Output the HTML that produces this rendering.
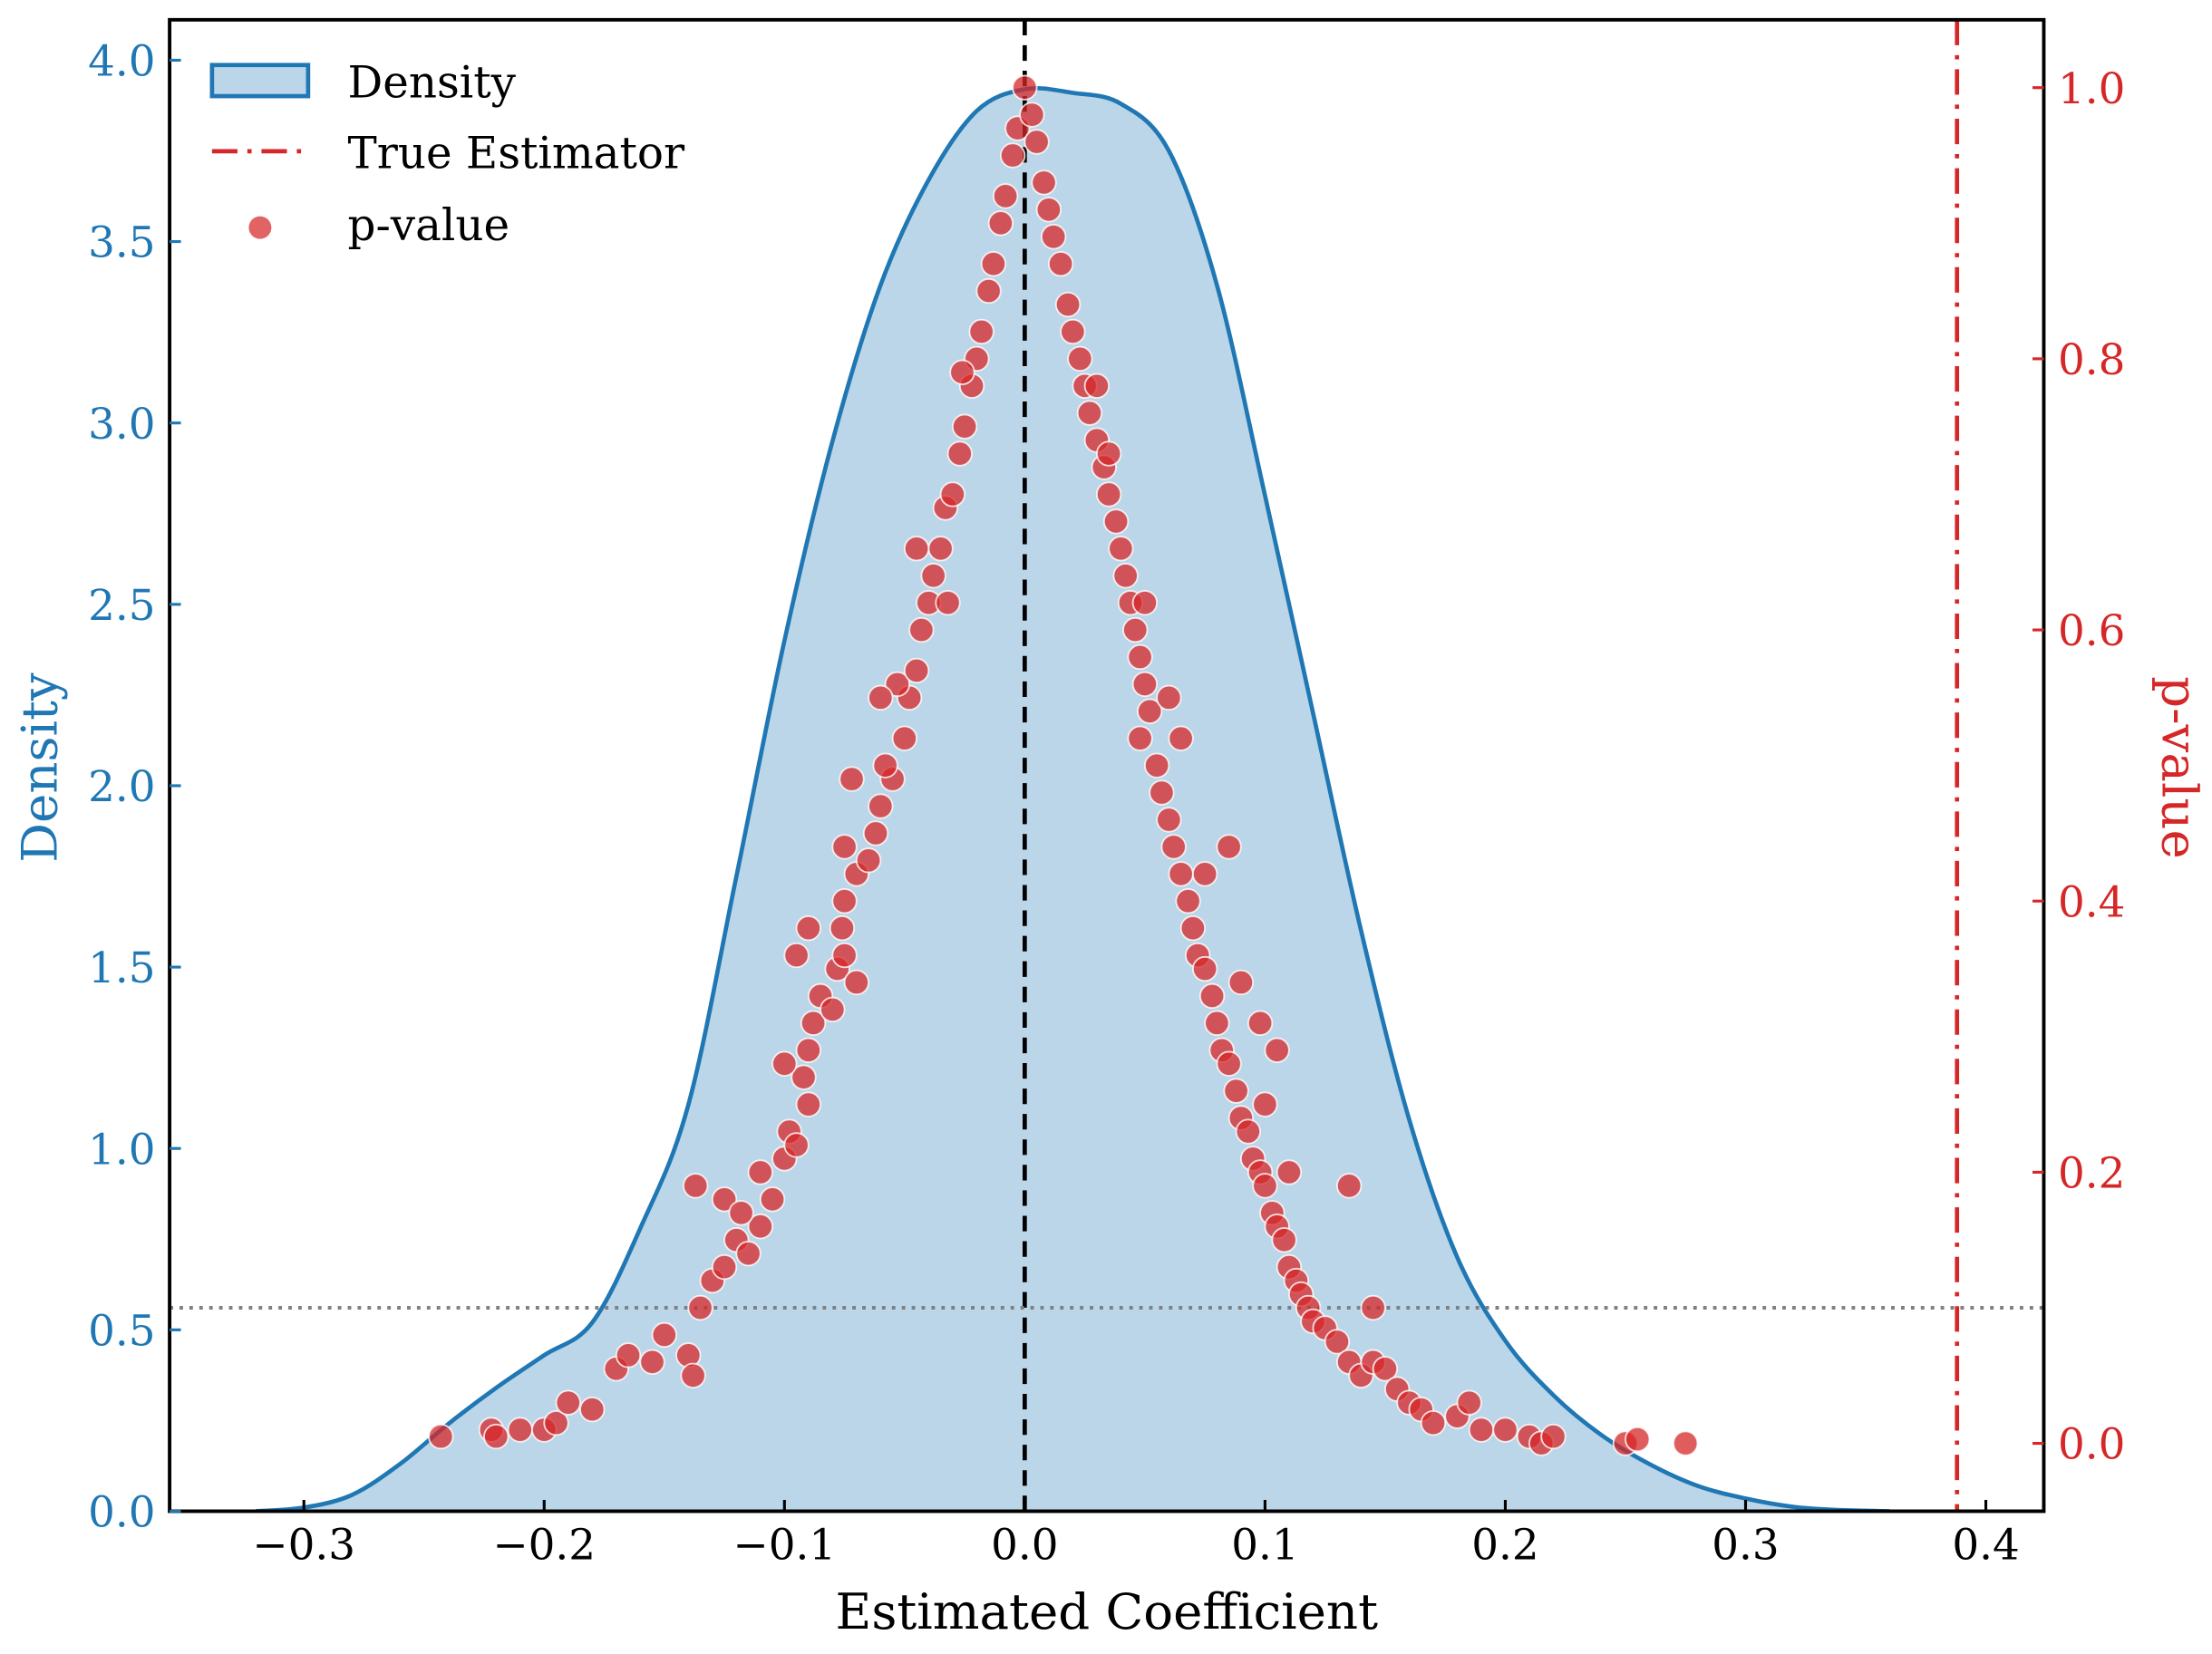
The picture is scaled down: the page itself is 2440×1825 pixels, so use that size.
<!DOCTYPE html>
<html><head><meta charset="utf-8"><style>
html,body{margin:0;padding:0;background:#fff}
svg{display:block}
text{font-family:"DejaVu Serif","Liberation Serif",serif}
</style></head><body>
<svg id="chart" width="2440" height="1825" viewBox="0 0 1565 1170" preserveAspectRatio="none" xmlns="http://www.w3.org/2000/svg">
<g id="plot"></g>
</svg>
<script>
const xTicks=[-0.3,-0.2,-0.1,0.0,0.1,0.2,0.3,0.4];
const xTickLabels=["\u22120.3","\u22120.2","\u22120.1","0.0","0.1","0.2","0.3","0.4"];
const densTicks=[0,0.5,1,1.5,2,2.5,3,3.5,4];
const densTickLabels=["0.0","0.5","1.0","1.5","2.0","2.5","3.0","3.5","4.0"];
const pTicks=[0,0.2,0.4,0.6,0.8,1.0];
const pTickLabels=["0.0","0.2","0.4","0.6","0.8","1.0"];
const kdeX=[-0.32,-0.30,-0.28,-0.26,-0.24,-0.22,-0.20,-0.18,-0.16,-0.14,-0.12,-0.10,-0.08,-0.06,-0.04,-0.02,0.0,0.02,0.04,0.06,0.08,0.10,0.12,0.14,0.16,0.18,0.20,0.22,0.24,0.26,0.28,0.30,0.32,0.34,0.36];
const kdeY=[0,0.01,0.045,0.13,0.24,0.34,0.43,0.52,0.78,1.12,1.75,2.4,2.95,3.38,3.67,3.86,3.92,3.91,3.88,3.75,3.38,2.8,2.2,1.6,1.08,0.7,0.47,0.32,0.21,0.13,0.07,0.035,0.012,0.003,0];
const trueEstimator=0.388;
const pThreshold=0.1;
const coefs=[-0.243,-0.222,-0.22,-0.21,-0.2,-0.195,-0.19,-0.18,-0.17,-0.165,-0.155,-0.15,-0.14,-0.138,-0.135,-0.13,-0.125,-0.12,-0.115,-0.11,-0.105,-0.137,-0.125,-0.118,-0.11,-0.1,-0.098,-0.095,-0.09,-0.092,-0.1,-0.09,-0.088,-0.085,-0.08,-0.078,-0.075,-0.07,-0.076,-0.095,-0.09,-0.075,-0.07,-0.065,-0.062,-0.06,-0.055,-0.058,-0.05,-0.048,-0.053,-0.045,-0.043,-0.04,-0.038,-0.035,-0.033,-0.03,-0.027,-0.025,-0.022,-0.02,-0.018,-0.015,-0.013,-0.01,-0.008,-0.005,-0.003,0.0,-0.06,-0.072,-0.032,-0.045,-0.026,-0.075,
0.003,0.005,0.008,0.01,0.012,0.015,0.018,0.02,0.023,0.025,0.027,0.03,0.033,0.035,0.038,0.04,0.042,0.044,0.046,0.048,0.05,0.052,0.048,0.055,0.057,0.06,0.062,0.065,0.068,0.07,0.072,0.075,0.078,0.08,0.082,0.085,0.088,0.09,0.093,0.095,0.098,0.1,0.103,0.105,0.108,0.11,0.113,0.115,0.118,0.12,0.125,0.13,0.135,0.14,0.145,0.15,0.155,0.16,0.165,0.17,0.18,0.185,0.19,0.2,0.21,0.215,0.22,0.25,0.255,0.275,0.085,0.09,0.105,0.135,0.1,0.065,0.05,0.03,0.035,0.11,0.145,0.075,0.06,0.098];
const pvals=[0.005,0.01,0.005,0.01,0.01,0.015,0.03,0.025,0.055,0.065,0.06,0.08,0.065,0.05,0.1,0.12,0.13,0.15,0.14,0.16,0.18,0.19,0.18,0.17,0.2,0.21,0.23,0.22,0.25,0.27,0.28,0.29,0.31,0.33,0.32,0.35,0.36,0.34,0.38,0.36,0.38,0.4,0.42,0.43,0.45,0.47,0.49,0.5,0.52,0.55,0.56,0.57,0.6,0.62,0.64,0.66,0.69,0.7,0.73,0.75,0.78,0.8,0.82,0.85,0.87,0.9,0.92,0.95,0.97,1.0,0.55,0.49,0.62,0.66,0.79,0.44,
0.98,0.96,0.93,0.91,0.89,0.87,0.84,0.82,0.8,0.78,0.76,0.74,0.72,0.7,0.68,0.66,0.64,0.62,0.6,0.58,0.56,0.54,0.52,0.5,0.48,0.46,0.44,0.42,0.4,0.38,0.36,0.35,0.33,0.31,0.29,0.28,0.26,0.24,0.23,0.21,0.2,0.19,0.17,0.16,0.15,0.13,0.12,0.11,0.1,0.09,0.085,0.075,0.06,0.05,0.06,0.055,0.04,0.03,0.025,0.015,0.02,0.03,0.01,0.01,0.005,0.0,0.005,0.0,0.003,0.0,0.44,0.34,0.29,0.19,0.25,0.52,0.62,0.78,0.73,0.2,0.1,0.42,0.55,0.31];

const L=120,R=1446,T=14,B=1069;
const sx=v=>725+v*1700;
const sy=d=>B-d*256.6;
const sp=p=>1021-p*959;
const NS="http://www.w3.org/2000/svg";
const g=document.getElementById('plot');
function mk(tag,attrs,parent){const e=document.createElementNS(NS,tag);for(const k in attrs)e.setAttribute(k,attrs[k]);(parent||g).appendChild(e);return e;}

const defs=mk('defs',{});
const cp=mk('clipPath',{id:'clip'},defs);mk('rect',{x:L,y:T,width:R-L,height:B-T},cp);
const inner=mk('g',{'clip-path':'url(#clip)'});



let d='M'+sx(kdeX[0])+','+sy(kdeY[0]);
for(let i=1;i<kdeX.length;i++){
  const x0=sx(kdeX[i-1]),y0=sy(kdeY[i-1]),x1=sx(kdeX[i]),y1=sy(kdeY[i]);
  const xm=sx(kdeX[Math.max(i-2,0)]),ym=sy(kdeY[Math.max(i-2,0)]);
  const xp=sx(kdeX[Math.min(i+1,kdeX.length-1)]),yp=sy(kdeY[Math.min(i+1,kdeX.length-1)]);
  d+=' C'+(x0+(x1-xm)/6)+','+(y0+(y1-ym)/6)+' '+(x1-(xp-x0)/6)+','+(y1-(yp-y0)/6)+' '+x1+','+y1;
}
const fill=mk('path',{d:d+' L'+sx(kdeX[kdeX.length-1])+','+B+' L'+sx(kdeX[0])+','+B+'Z',fill:'rgba(31,119,180,0.3)',stroke:'none'},inner);


const line=mk('path',{d:d,fill:'none',stroke:'#1f77b4','stroke-width':3},inner);



const zl=mk('line',{x1:sx(0),x2:sx(0),y1:T,y2:B,stroke:'#000','stroke-width':3,'stroke-dasharray':'11,7'},inner);


const th=mk('line',{x1:L,x2:R,y1:sp(pThreshold),y2:sp(pThreshold),stroke:'#808080','stroke-width':2.5,'stroke-dasharray':'2.5,4.5'},inner);


const te=mk('line',{x1:sx(trueEstimator),x2:sx(trueEstimator),y1:T,y2:B,stroke:'#d62728','stroke-width':3,'stroke-dasharray':'18,7,3,7'},inner);



const sg=mk('g',{},inner);


for(let i=0;i<coefs.length;i++){
  const c=mk('circle',{cx:sx(coefs[i]),cy:sp(pvals[i]),r:8.5,fill:'rgba(214,39,40,0.75)',stroke:'rgba(255,255,255,0.8)','stroke-width':1.2},sg);
  
  
}

const fr=mk('rect',{x:L,y:T,width:R-L,height:B-T,fill:'none',stroke:'#000','stroke-width':2.5});



xTicks.forEach((v,i)=>{
  const t=mk('line',{x1:sx(v),x2:sx(v),y1:B,y2:B-8,stroke:'#000','stroke-width':2});
  
  
  const l=mk('text',{x:sx(v),y:B+34,'text-anchor':'middle','font-size':30,fill:'#000'});
  l.textContent=xTickLabels[i];
  
  
});
densTicks.forEach((v,i)=>{
  const t=mk('line',{x1:L,x2:L+8,y1:sy(v),y2:sy(v),stroke:'#1f77b4','stroke-width':2});
  
  
  const l=mk('text',{x:L-10,y:sy(v)+11,'text-anchor':'end','font-size':30,fill:'#1f77b4'});
  l.textContent=densTickLabels[i];
  
  
});
pTicks.forEach((v,i)=>{
  const t=mk('line',{x1:R,x2:R-8,y1:sp(v),y2:sp(v),stroke:'#d62728','stroke-width':2});
  
  
  const l=mk('text',{x:R+10,y:sp(v)+11,'text-anchor':'start','font-size':30,fill:'#d62728'});
  l.textContent=pTickLabels[i];
  
  
});
</script>
<svg style="position:absolute;left:0;top:0" width="2440" height="1825" viewBox="0 0 1565 1170" preserveAspectRatio="none" xmlns="http://www.w3.org/2000/svg">
<text x="783" y="1152" text-anchor="middle" font-size="35" fill="#000">Estimated Coefficient</text>
<text transform="translate(40,543) rotate(-90)" text-anchor="middle" font-size="35" fill="#1f77b4">Density</text>
<text transform="translate(1530,543) rotate(90)" text-anchor="middle" font-size="35" fill="#d62728">p-value</text>
<g>
<rect x="150" y="46" width="68" height="22" fill="rgba(31,119,180,0.3)" stroke="#1f77b4" stroke-width="3"/>
<text x="246" y="69" font-size="31" fill="#000">Density</text>
<line x1="150" x2="218" y1="107" y2="107" stroke="#d62728" stroke-width="3" stroke-dasharray="18,7,3,7"/>
<text x="246" y="119" font-size="31" fill="#000">True Estimator</text>
<circle cx="184" cy="161" r="8" fill="rgba(214,39,40,0.72)"/>
<text x="246" y="170" font-size="31" fill="#000">p-value</text>
</g>
</svg>
</body></html>
